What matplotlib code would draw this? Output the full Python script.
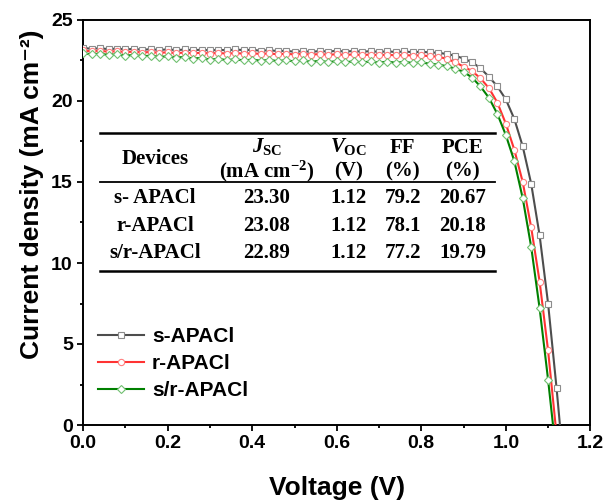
import numpy as np
from matplotlib import pyplot as plt
from matplotlib.ticker import MultipleLocator

plt.rcParams['mathtext.fontset'] = 'custom'
plt.rcParams['mathtext.rm'] = 'Liberation Serif:bold'
plt.rcParams['mathtext.bf'] = 'Liberation Serif:bold'
plt.rcParams['mathtext.it'] = 'Liberation Serif:italic:bold'

# tensao (V)
voltage = [0.00, 0.02, 0.04, 0.06, 0.08, 0.10, 0.12, 0.14, 0.16, 0.18,
           0.20, 0.22, 0.24, 0.26, 0.28, 0.30, 0.32, 0.34, 0.36, 0.38,
           0.40, 0.42, 0.44, 0.46, 0.48, 0.50, 0.52, 0.54, 0.56, 0.58,
           0.60, 0.62, 0.64, 0.66, 0.68, 0.70, 0.72, 0.74, 0.76, 0.78,
           0.80, 0.82, 0.84, 0.86, 0.88, 0.90, 0.92, 0.94, 0.96, 0.98,
           1.00, 1.02, 1.04, 1.06, 1.08, 1.10, 1.12, 1.14]

# densidade de corrente (mA cm-2)
j_s = [23.28, 23.22, 23.26, 23.20, 23.24, 23.18, 23.22, 23.16, 23.20, 23.15,
       23.19, 23.14, 23.18, 23.13, 23.17, 23.12, 23.16, 23.13, 23.18, 23.14,
       23.16, 23.10, 23.14, 23.08, 23.10, 23.04, 23.08, 23.03, 23.09, 23.05,
       23.10, 23.05, 23.09, 23.04, 23.08, 23.03, 23.07, 23.02, 23.06, 23.01,
       23.04, 23.00, 22.98, 22.90, 22.80, 22.62, 22.40, 22.02, 21.50, 20.90,
       20.10, 18.90, 17.20, 14.90, 11.70, 7.50, 2.30, -3.40]
j_r = [23.12, 23.06, 23.10, 23.04, 23.08, 23.01, 23.05, 22.99, 23.03, 22.97,
       23.01, 22.95, 22.99, 22.94, 22.98, 22.93, 22.97, 22.92, 22.96, 22.92,
       22.95, 22.90, 22.94, 22.88, 22.92, 22.87, 22.91, 22.86, 22.90, 22.85,
       22.89, 22.84, 22.88, 22.83, 22.87, 22.82, 22.86, 22.81, 22.84, 22.80,
       22.82, 22.76, 22.74, 22.60, 22.40, 22.12, 21.85, 21.40, 20.80, 19.90,
       18.60, 17.00, 15.00, 12.20, 8.85, 4.60, -0.60, -6.00]
j_sr = [22.95, 22.88, 22.92, 22.84, 22.88, 22.80, 22.84, 22.76, 22.80, 22.72,
        22.76, 22.68, 22.72, 22.62, 22.66, 22.56, 22.60, 22.52, 22.58, 22.50,
        22.56, 22.48, 22.54, 22.46, 22.52, 22.44, 22.50, 22.42, 22.48, 22.40,
        22.46, 22.39, 22.45, 22.38, 22.44, 22.37, 22.43, 22.36, 22.42, 22.34,
        22.38, 22.30, 22.25, 22.15, 22.00, 21.80, 21.45, 20.90, 20.20, 19.20,
        17.90, 16.30, 14.00, 11.00, 7.20, 2.80, -2.00, -7.00]

# dados da tabela
devices = ['s- APACl', 'r-APACl', 's/r-APACl']
jsc = ['23.30', '23.08', '22.89']
voc = ['1.12', '1.12', '1.12']
ff = ['79.2', '78.1', '77.2']
pce = ['20.67', '20.18', '19.79']

fig = plt.figure(figsize=(6.03, 5.0), dpi=100)
ax = fig.add_axes([0.138, 0.15, 0.841, 0.81])

ax.plot(voltage, j_s, c='#4d4d4d', lw=1.5, marker='s', ms=4.5, mfc='white',
        mec='#8c8c8c', mew=0.8, label='s-APACl', zorder=3)
ax.plot(voltage, j_r, c='#ff3333', lw=1.5, marker='o', ms=4.5, mfc='white',
        mec='#ff8080', mew=0.8, label='r-APACl', zorder=3)
ax.plot(voltage, j_sr, c='#008000', lw=1.5, marker='D', ms=4.0, mfc='white',
        mec='#70c070', mew=0.8, label='s/r-APACl', zorder=3)

ax.set_xlim(0, 1.2)
ax.set_ylim(0, 25)
ax.xaxis.set_major_locator(MultipleLocator(0.2))
ax.xaxis.set_minor_locator(MultipleLocator(0.1))
ax.yaxis.set_major_locator(MultipleLocator(5))
ax.yaxis.set_minor_locator(MultipleLocator(2.5))
ax.tick_params(which='major', direction='out', length=4, width=1.3)
ax.tick_params(which='minor', direction='out', length=2.5, width=1.3)
for sp in ax.spines.values():
    sp.set_linewidth(1.4)

for lab in ax.get_xticklabels() + ax.get_yticklabels():
    lab.set_fontfamily('Liberation Sans')
    lab.set_fontweight('bold')
    lab.set_fontsize(14)
ax.xaxis.set_major_formatter(plt.FuncFormatter(lambda v, p: '%.1f' % v))

ax.set_xlabel('Voltage (V)', fontsize=19, fontweight='bold',
              fontfamily='Liberation Sans', labelpad=17)
ax.set_ylabel('Current density (mA cm\u207b\u00b2)', fontsize=19,
              fontweight='bold', fontfamily=['Liberation Sans', 'DejaVu Sans'])
ax.yaxis.set_label_coords(-0.077, 0.57)

leg = ax.legend(loc='lower left', bbox_to_anchor=(0.0, 0.025), frameon=False,
                prop={'family': 'Liberation Sans', 'weight': 'bold', 'size': 15},
                handlelength=2.2, labelspacing=0.38, handletextpad=0.4,
                borderaxespad=0.3)

# tabela desenhada como texto
tf = dict(transform=ax.transAxes, ha='center', va='center',
          fontfamily='Liberation Serif', fontweight='bold', fontsize=15)
x_cols = [0.142, 0.362, 0.523, 0.630, 0.748]
ax.plot([0.0335, 0.8126], [0.721, 0.721], transform=ax.transAxes, c='black', lw=1.8, clip_on=False)
ax.plot([0.0335, 0.8126], [0.600, 0.600], transform=ax.transAxes, c='black', lw=1.3, clip_on=False)
ax.plot([0.0335, 0.8126], [0.380, 0.380], transform=ax.transAxes, c='black', lw=1.8, clip_on=False)

ax.text(x_cols[0], 0.657, 'Devices', **tf)
ax.text(x_cols[1], 0.688, r'$J_{\mathrm{SC}}$', **tf)
ax.text(x_cols[1], 0.626, r'(mA cm$^{-2}$)', **tf)
ax.text(x_cols[2], 0.688, r'$V_{\mathrm{OC}}$', **tf)
ax.text(x_cols[2], 0.626, '(V)', **tf)
ax.text(x_cols[3], 0.684, 'FF', **tf)
ax.text(x_cols[3], 0.626, '(%)', **tf)
ax.text(x_cols[4], 0.684, 'PCE', **tf)
ax.text(x_cols[4], 0.626, '(%)', **tf)

row_y = [0.5605, 0.4914, 0.4247]
for i in range(len(devices)):
    ax.text(x_cols[0], row_y[i], devices[i], **tf)
    ax.text(x_cols[1], row_y[i], jsc[i], **tf)
    ax.text(x_cols[2], row_y[i], voc[i], **tf)
    ax.text(x_cols[3], row_y[i], ff[i], **tf)
    ax.text(x_cols[4], row_y[i], pce[i], **tf)

fig.savefig('out.png', dpi=100)
